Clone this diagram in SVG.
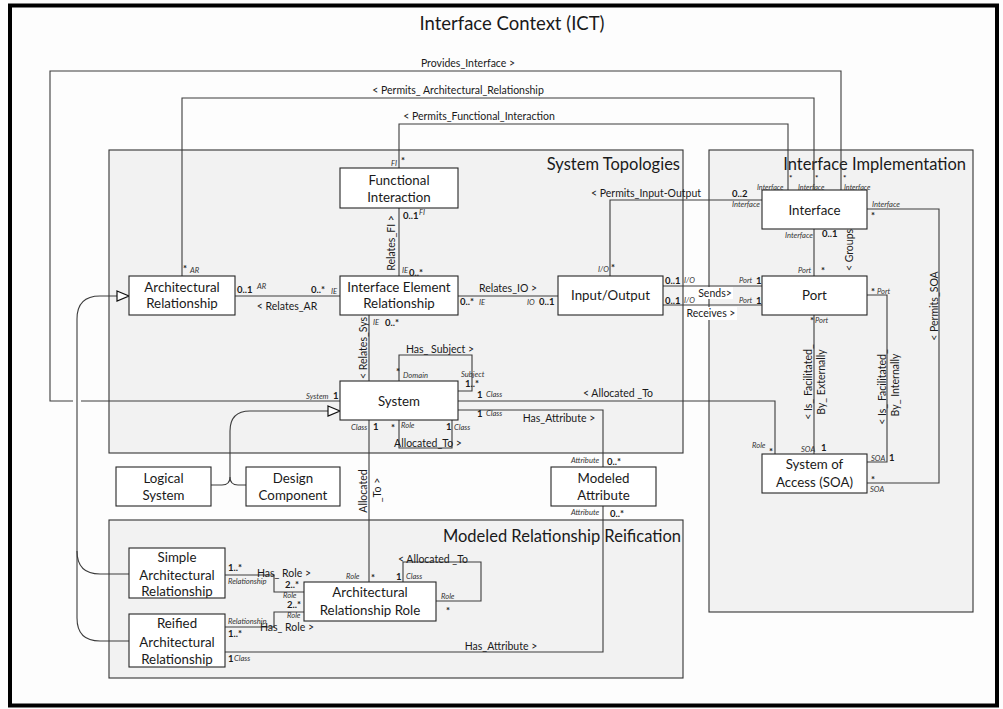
<svg xmlns="http://www.w3.org/2000/svg" width="1003" height="709" viewBox="0 0 1003 709">
<style>
text{font-family:Lato,"Liberation Sans",sans-serif;fill:#1a1a1a}
.title{font-size:18.5px}
.ptitle{font-size:16.5px;text-anchor:end}
.node rect{fill:#fff;stroke:#262626;stroke-width:1.1}
.node text{font-size:13.3px;text-anchor:middle}
.panel{fill:#f2f2f2;stroke:#333;stroke-width:1.1}
.conn path{fill:none;stroke:#3c3c3c;stroke-width:1.1}
.gen{fill:none;stroke:#111;stroke-width:1.2}
.tri{fill:#fff;stroke:#111;stroke-width:1.2}
.lbl{font-size:10.5px}
.c{text-anchor:middle}
.role{font-size:7.6px;font-style:italic;fill:#333}
.m{font-size:9.5px;font-weight:bold}
.s{font-size:7.2px}
.st{font-size:8px}
.bg{fill:#fff}
</style>
<rect x="0" y="0" width="1003" height="709" fill="#fdfdfd"/>
<rect x="10" y="5.5" width="987" height="700" fill="#fdfdfd" stroke="#000" stroke-width="4"/>
<text class="title" x="512" y="30" text-anchor="middle">Interface Context (ICT)</text>

<g id="panels">
<rect class="panel" x="109" y="150" width="574" height="303"/>
<text class="ptitle" x="680" y="170">System Topologies</text>
<rect class="panel" x="709" y="150" width="264" height="462"/>
<text class="ptitle" x="966" y="169.5">Interface Implementation</text>
<rect class="panel" x="109" y="520" width="574" height="158"/>
<text class="ptitle" x="681" y="542">Modeled Relationship Reification</text>
</g>

<g id="connectors" class="conn">
<path d="M841,190 V71 H50 V401 H73"/>
<path d="M81,401 H340"/>
<path d="M814,190 V98 H182 V276"/>
<path d="M788,190 V124 H399 V168"/>
<path d="M399,208 V276"/>
<path d="M235,296 H340"/>
<path d="M458,296 H558"/>
<path d="M369,315 V381"/>
<path d="M610,276 V200 H762"/>
<path d="M663,286 H762"/>
<path d="M663,305 H762"/>
<path d="M814,229 V276"/>
<path d="M867,209 H939 V483 H867"/>
<path d="M867,295 H887 V462 H867"/>
<path d="M814,315 V454"/>
<path d="M458,401 H775 V454"/>
<path d="M458,410 H603 V467"/>
<path d="M399,381 V355 H472 V391 H458"/>
<path d="M399,420 V448 H452 V420"/>
<path d="M369,420 V582"/>
<path d="M403,582 V562 H481 V601 H436"/>
<path d="M225,575 H274 V592 H304"/>
<path d="M225,627 H274 V612 H304"/>
<path d="M225,652 H603 V506"/>
<path class="gen" d="M117,296 H100 Q77,296 77,319 V618 Q77,641 100,641 H129"/>
<path class="gen" d="M77,551 Q77,574 100,574 H129"/>
<polygon class="tri" points="117,291 129,296 117,301"/>
<path class="gen" d="M211,485 H222 Q230,485 230,477 V431 Q230,411 250,411 H328"/>
<path class="gen" d="M246,485 H238 Q230,485 230,477"/>
<polygon class="tri" points="328,406 340,411 328,416"/>
</g>

<g id="connector-labels">
<text class="lbl c" x="468" y="67">Provides_Interface &gt;</text>
<text class="lbl c" x="458" y="94">&lt; Permits_ Architectural_Relationship</text>
<text class="lbl c" x="479" y="120">&lt; Permits_Functional_Interaction</text>
<text class="lbl c" x="646" y="197">&lt; Permits_Input-Output</text>
<text class="lbl c" x="508" y="292">Relates_IO &gt;</text>
<text class="lbl c" x="287" y="310">&lt; Relates_AR</text>
<text class="lbl c" x="395" y="243" transform="rotate(-90 395 243)">Relates_FI &gt;</text>
<text class="lbl c" x="367" y="348" transform="rotate(-90 367 348)">&lt; Relates_Sys</text>
<text class="lbl c" x="853" y="250" transform="rotate(-90 853 250)">&lt; Groups</text>
<text class="lbl c" x="938" y="306" transform="rotate(-90 938 306)">&lt; Permits_SOA</text>
<text class="lbl c" x="812" y="382" transform="rotate(-90 812 382)">&lt; Is_ Facilitated_</text>
<text class="lbl c" x="825" y="382" transform="rotate(-90 825 382)">By_ Externally</text>
<text class="lbl c" x="886" y="387" transform="rotate(-90 886 387)">&lt; Is_ Facilitated_</text>
<text class="lbl c" x="899" y="385" transform="rotate(-90 899 385)">By_ Internally</text>
<text class="lbl c" x="618" y="397">&lt; Allocated _To</text>
<text class="lbl c" x="559" y="422">Has_Attribute &gt;</text>
<text class="lbl c" x="440" y="353">Has_ Subject &gt;</text>
<text class="lbl c" x="428" y="447">Allocated_To &gt;</text>
<text class="lbl c" x="367" y="491" transform="rotate(-90 367 491)">Allocated</text>
<text class="lbl c" x="381" y="490" transform="rotate(-90 381 490)">_To &gt;</text>
<text class="lbl c" x="284" y="577">Has_ Role &gt;</text>
<text class="lbl c" x="287" y="631">Has_ Role &gt;</text>
<text class="lbl c" x="433" y="563">&lt; Allocated _To</text>
<text class="lbl c" x="501" y="650">Has_Attribute &gt;</text>
<rect class="bg" x="697" y="287" width="36" height="12"/>
<text class="lbl c" x="715" y="297">Sends&gt;</text>
<rect class="bg" x="685" y="307" width="52" height="13"/>
<text class="lbl c" x="711" y="317">Receives &gt;</text>
</g>

<g id="ends">
<text class="role s" x="757" y="190">Interface</text><text class="m st" x="789" y="181">*</text>
<text class="role s" x="798" y="190">Interface</text><text class="m st" x="815" y="181">*</text>
<text class="role s" x="844" y="190">Interface</text><text class="m st" x="843" y="181">*</text>
<text class="role" x="391" y="166">FI</text><text class="m" x="401" y="164">*</text>
<text class="m" x="403" y="219">0..1</text><text class="role" x="419" y="215">FI</text>
<text class="role" x="402" y="273">IE</text><text class="m" x="409" y="276">0..*</text>
<text class="m" x="183" y="272">*</text><text class="role" x="190" y="273">AR</text>
<text class="m" x="237" y="293">0..1</text><text class="role" x="257" y="289">AR</text>
<text class="m" x="311" y="293">0..*</text><text class="role" x="331" y="294">IE</text>
<text class="m" x="460" y="305">0..*</text><text class="role" x="479" y="305">IE</text>
<text class="role" x="527" y="305">IO</text><text class="m" x="539" y="305">0..1</text>
<text class="role" x="373" y="325">IE</text><text class="m" x="385" y="326">0..*</text>
<text class="role" x="598" y="272">I/O</text><text class="m" x="611" y="271">*</text>
<text class="m" x="732" y="197">0..2</text><text class="role" x="732" y="207">Interface</text>
<text class="m" x="665" y="284">0..1</text><text class="role" x="684" y="283">I/O</text>
<text class="m" x="665" y="304">0..1</text><text class="role" x="684" y="303">I/O</text>
<text class="role" x="739" y="283">Port</text><text class="m" x="756" y="284">1</text>
<text class="role" x="739" y="303">Port</text><text class="m" x="756" y="304">1</text>
<text class="role" x="785" y="238">Interface</text><text class="m" x="822" y="237">0..1</text>
<text class="role" x="798" y="273">Port</text><text class="m" x="821" y="274">*</text>
<text class="role" x="872" y="207">Interface</text><text class="m" x="871" y="219">*</text>
<text class="m" x="871" y="483">*</text><text class="role" x="870" y="492">SOA</text>
<text class="m" x="871" y="295">*</text><text class="role" x="877" y="294">Port</text>
<text class="role" x="871" y="461">SOA</text><text class="m" x="889" y="461">1</text>
<text class="m" x="810" y="324">*</text><text class="role" x="815" y="323">Port</text>
<text class="role" x="801" y="452">SOA</text><text class="m" x="821" y="451">1</text>
<text class="role" x="752" y="448">Role</text><text class="m" x="769" y="455">*</text>
<text class="role" x="306" y="399">System</text><text class="m" x="333" y="399">1</text>
<text class="m" x="477" y="398">1</text><text class="role" x="486" y="397">Class</text>
<text class="m" x="477" y="417">1</text><text class="role" x="486" y="416">Class</text>
<text class="m" x="396" y="375">*</text><text class="role" x="403" y="378">Domain</text>
<text class="role" x="461" y="377">Subject</text><text class="m" x="465" y="387">1..*</text>
<text class="m" x="391" y="431">*</text><text class="role" x="401" y="428">Role</text>
<text class="m" x="446" y="430">1</text><text class="role" x="454" y="430">Class</text>
<text class="role" x="351" y="430">Class</text><text class="m" x="373" y="430">1</text>
<text class="role" x="571" y="463">Attribute</text><text class="m" x="607" y="465">0..*</text>
<text class="role" x="571" y="515">Attribute</text><text class="m" x="610" y="517">0..*</text>
<text class="role" x="346" y="579">Role</text><text class="m" x="371" y="581">*</text>
<text class="m" x="396" y="580">1</text><text class="role" x="406" y="579">Class</text>
<text class="role" x="441" y="599">Role</text><text class="m" x="446" y="614">*</text>
<text class="m" x="228" y="571">1..*</text><text class="role" x="228" y="584">Relationship</text>
<text class="m" x="285" y="588">2..*</text><text class="role" x="283" y="598">Role</text>
<text class="role" x="228" y="624">Relationship</text><text class="m" x="228" y="637">1..*</text>
<text class="m" x="287" y="608">2..*</text><text class="role" x="287" y="618">Role</text>
<text class="m" x="228" y="662">1</text><text class="role" x="234" y="661">Class</text>
</g>

<g id="functional-interaction" class="node"><rect x="340" y="168" width="118" height="40"/><text x="399" y="185">Functional</text><text x="399" y="202">Interaction</text></g>
<g id="interface-element-relationship" class="node"><rect x="340" y="276" width="118" height="39"/><text x="399" y="292">Interface Element</text><text x="399" y="308">Relationship</text></g>
<g id="architectural-relationship" class="node"><rect x="129" y="276" width="106" height="39"/><text x="182" y="292">Architectural</text><text x="182" y="308">Relationship</text></g>
<g id="input-output" class="node"><rect x="558" y="276" width="105" height="39"/><text x="610.5" y="300">Input/Output</text></g>
<g id="system" class="node"><rect x="340" y="381" width="118" height="39"/><text x="399" y="406">System</text></g>
<g id="interface" class="node"><rect x="762" y="190" width="105" height="39"/><text x="814.5" y="215">Interface</text></g>
<g id="port" class="node"><rect x="762" y="276" width="105" height="39"/><text x="814.5" y="300">Port</text></g>
<g id="system-of-access" class="node"><rect x="762" y="454" width="105" height="39"/><text x="814.5" y="469">System of</text><text x="814.5" y="487">Access (SOA)</text></g>
<g id="logical-system" class="node"><rect x="116" y="467" width="95" height="39"/><text x="163.5" y="483">Logical</text><text x="163.5" y="500">System</text></g>
<g id="design-component" class="node"><rect x="246" y="467" width="94" height="39"/><text x="293" y="483">Design</text><text x="293" y="500">Component</text></g>
<g id="modeled-attribute" class="node"><rect x="551" y="467" width="105" height="39"/><text x="603.5" y="483">Modeled</text><text x="603.5" y="500">Attribute</text></g>
<g id="simple-architectural-relationship" class="node"><rect x="129" y="548" width="96" height="50"/><text x="177" y="562">Simple</text><text x="177" y="580">Architectural</text><text x="177" y="596">Relationship</text></g>
<g id="reified-architectural-relationship" class="node"><rect x="129" y="614" width="96" height="53"/><text x="177" y="628">Reified</text><text x="177" y="647">Architectural</text><text x="177" y="664">Relationship</text></g>
<g id="architectural-relationship-role" class="node"><rect x="304" y="582" width="132" height="39"/><text x="370" y="597">Architectural</text><text x="370" y="615">Relationship Role</text></g>
</svg>
